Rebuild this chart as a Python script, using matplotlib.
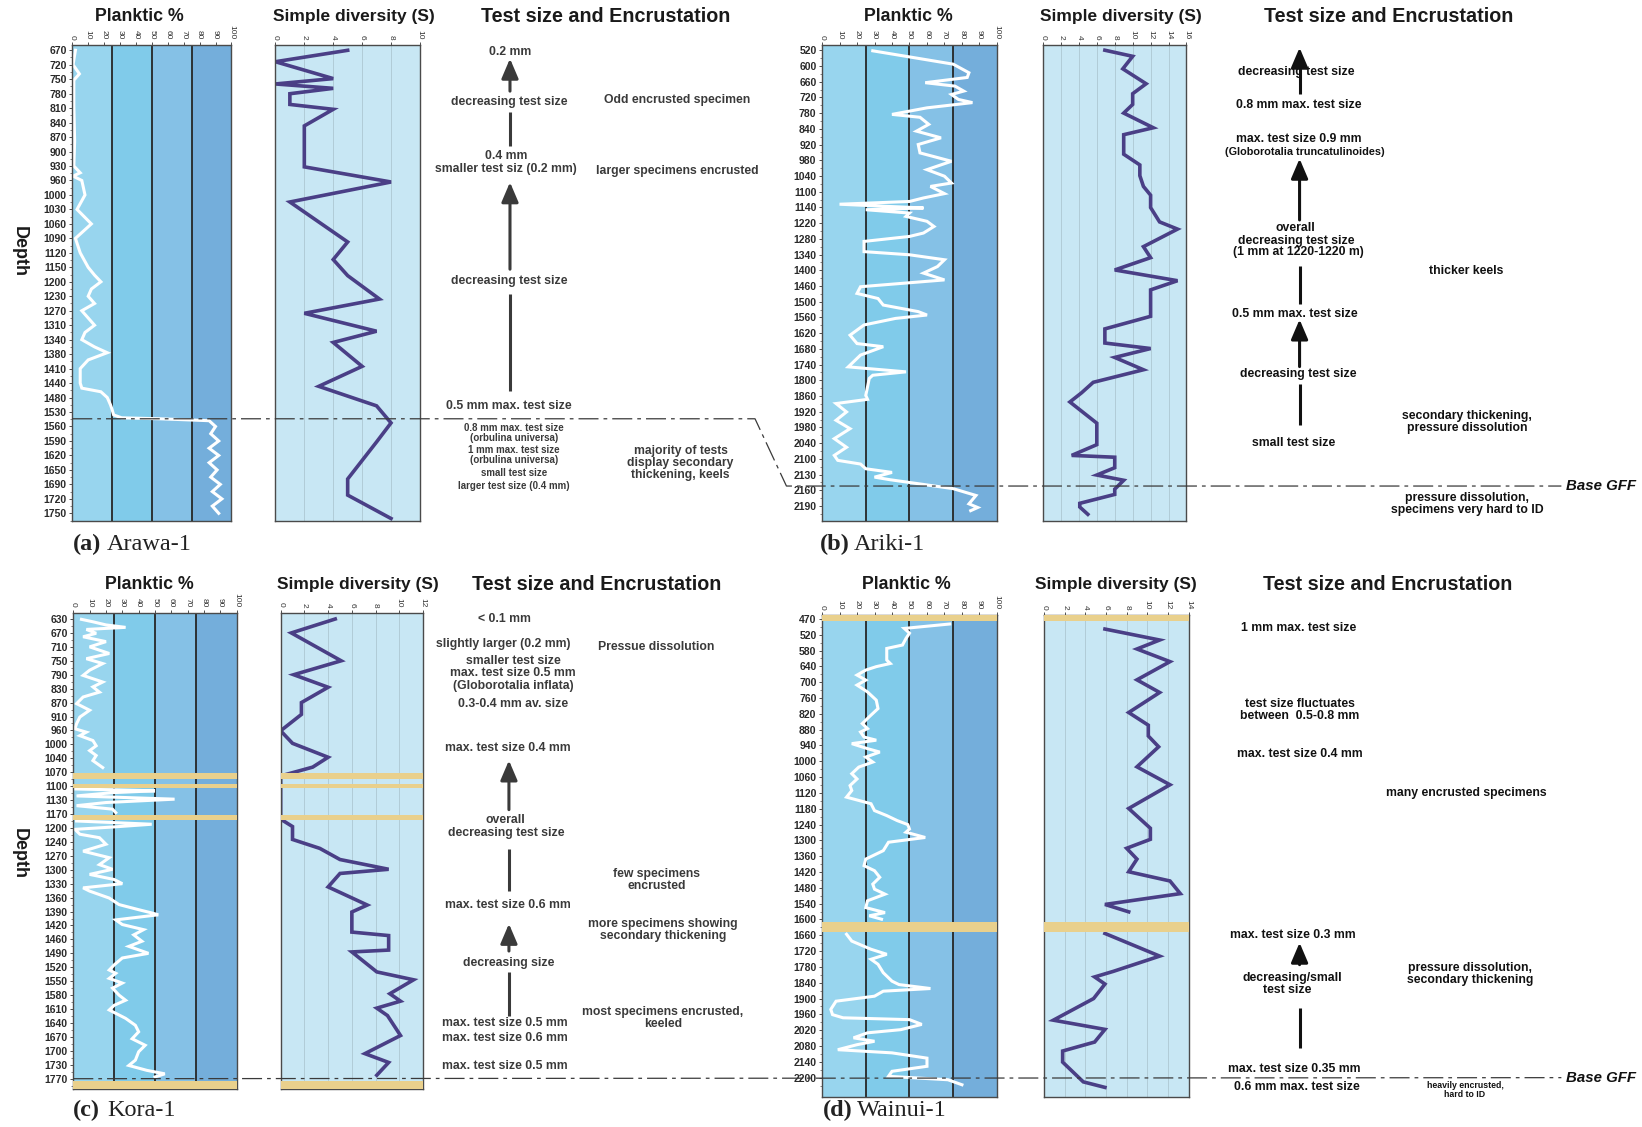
import numpy as np
import matplotlib
matplotlib.use("Agg")
import matplotlib.pyplot as plt
from matplotlib.lines import Line2D
from matplotlib.patches import FancyArrowPatch

# ---------------------------------------------------------------- data ----
# Arawa-1
arawa_depth_labels = [670, 720, 750, 780, 810, 840, 870, 900, 930, 960, 1000, 1030,
                      1060, 1090, 1120, 1150, 1200, 1230, 1270, 1310, 1340, 1380,
                      1410, 1440, 1480, 1530, 1560, 1590, 1620, 1650, 1690, 1720, 1750]
arawa_plank_depth = [670, 720, 739, 752, 805, 878, 930, 944, 951, 960, 1000, 1030, 1060,
                     1090, 1120, 1150, 1177, 1200, 1215, 1230, 1250, 1270, 1290, 1310,
                     1325, 1340, 1360, 1376, 1392, 1410, 1440, 1454, 1464, 1480, 1505,
                     1521, 1536, 1542, 1544, 1548, 1560, 1575, 1590, 1605, 1620, 1635,
                     1650, 1670, 1690, 1705, 1720, 1735, 1750]
arawa_plank_pct = [2, 0.5, 4.5, 1, 1, 1.5, 1, 5, 0.5, 6, 8, 3, 12, 2, 5, 10, 14, 18, 12,
                   10, 14, 6, 10, 14, 8, 6, 14, 22, 10, 5, 5, 6, 18, 22, 24, 25, 26, 31,
                   55, 86, 90, 87, 92, 86, 92, 86, 91, 87, 93, 88, 94, 88, 92]
arawa_div_depth = [670, 709, 748, 759, 768, 779, 801, 811, 845, 929, 960, 1011, 1093,
                   1129, 1170, 1230, 1269, 1316, 1339, 1398, 1439, 1495, 1544, 1583,
                   1662, 1702, 1750]
arawa_div_s = [5, 0, 4, 0, 4, 1, 1, 4, 2, 2, 8, 1, 5, 4, 5, 7.2, 2, 7, 4, 6, 3, 7, 8, 7,
               5, 5, 8]
arawa_base_gff = 1544

# Ariki-1
ariki_depth_labels = [520, 600, 660, 720, 780, 840, 920, 980, 1040, 1100, 1140, 1220,
                      1280, 1340, 1400, 1460, 1500, 1560, 1620, 1680, 1740, 1800, 1860,
                      1920, 1980, 2040, 2100, 2130, 2160, 2190]
ariki_plank_depth = [523, 591, 626, 644, 664, 677, 696, 709, 728, 740, 760, 785, 796, 823,
                     852, 886, 920, 952, 984, 1016, 1041, 1067, 1080, 1105, 1116, 1125,
                     1132, 1138, 1143, 1152, 1169, 1186, 1211, 1233, 1258, 1271, 1290,
                     1329, 1341, 1360, 1386, 1411, 1437, 1462, 1479, 1492, 1513, 1538,
                     1551, 1564, 1589, 1628, 1660, 1672, 1704, 1749, 1768, 1781, 1793,
                     1858, 1873, 1889, 1921, 1953, 1985, 2023, 2056, 2087, 2103, 2110,
                     2119, 2126, 2135, 2140, 2157, 2170, 2186, 2193, 2199]
ariki_plank_pct = [29, 75, 84, 83, 59, 76, 81, 74, 78, 86, 60, 40, 56, 61, 54, 68, 55, 56,
                   74, 60, 70, 74, 62, 70, 58, 50, 10, 40, 58, 25, 50, 48, 60, 64, 58, 50,
                   24, 24, 50, 70, 66, 58, 70, 22, 20, 32, 35, 55, 60, 42, 24, 16, 20, 35,
                   22, 15, 48, 29, 27, 25, 26, 8, 14, 8, 16, 7, 14, 7, 9, 22, 25, 40, 30,
                   39, 75, 88, 84, 89, 85]
ariki_div_depth = [520, 551, 611, 668, 706, 747, 780, 836, 870, 957, 998, 1039, 1080,
                   1109, 1141, 1214, 1243, 1310, 1352, 1399, 1440, 1470, 1556, 1604,
                   1658, 1679, 1713, 1760, 1808, 1848, 1883, 1964, 2046, 2087, 2094,
                   2117, 2131, 2141, 2158, 2168, 2185, 2192, 2206]
ariki_div_s = [6.9, 10, 8.9, 11.5, 10, 10, 9, 12.3, 9, 9, 10.8, 10.8, 11.2, 12, 12, 13,
               15, 11.2, 12, 8, 15, 12, 12, 6.9, 6.9, 12, 8, 11.2, 5.6, 4.3, 3, 6, 6,
               3.2, 8, 8, 6, 9, 8, 8, 4.1, 4.1, 5]
ariki_base_gff = 2152

# Kora-1 (NaN marks a break in the record)
kora_depth_labels = [630, 670, 710, 750, 790, 830, 870, 910, 960, 1000, 1040, 1070, 1100,
                     1130, 1170, 1200, 1240, 1270, 1300, 1330, 1360, 1390, 1420, 1460,
                     1490, 1520, 1550, 1580, 1610, 1640, 1670, 1700, 1730, 1770]
kora_plank_depth = [631, 638, 647, 654, 660, 671, 681, 695, 710, 729, 744, 758, 777, 792,
                    811, 825, 840, 854, 873, 892, 912, 936, 954, 965, 975, 989, 1004,
                    1018, 1032, 1045, 1060, np.nan,
                    1106, 1110, 1114, 1121, 1128, 1137, 1146, 1156, 1166, np.nan,
                    1185, 1192, 1198, 1204, 1218, 1228, 1245, 1260, 1274, 1289, 1299,
                    1310, 1321, 1330, 1339, 1346, 1361, 1375, 1386, 1393, 1397, 1408,
                    1418, 1432, 1447, 1464, 1475, 1490, 1500, 1515, 1526, 1533, 1544,
                    1554, 1565, 1580, 1591, 1602, 1612, 1630, 1645, 1659, 1674, 1688,
                    1702, 1720, 1732, 1746, 1756, 1765]
kora_plank_pct = [5, 12, 20, 32, 8, 14, 6, 20, 10, 22, 8, 18, 10, 6, 18, 12, 16, 6, 2, 10,
                  4, 2, 1, 8, 4, 12, 14, 10, 14, 12, 18, np.nan,
                  1, 50, 24, 2, 62, 20, 2, 24, 26, np.nan,
                  2, 48, 24, 1, 4, 16, 20, 6, 22, 16, 24, 10, 25, 30, 6, 10, 22, 28, 40,
                  48, 52, 26, 30, 43, 37, 42, 34, 46, 30, 25, 22, 26, 22, 30, 24, 28, 32,
                  25, 22, 32, 38, 40, 36, 44, 40, 38, 34, 45, 56, 50]
kora_div_depth = [630, 670, 750, 790, 826, 870, 904, 961, 997, 1037, 1059, 1078, 1181,
                  1197, 1233, 1254, 1278, 1299, 1308, 1337, 1376, 1391, 1439, 1449, 1483,
                  1487, 1530, 1547, 1577, 1593, 1608, 1624, 1667, 1706, 1725, 1760]
kora_div_s = [4.6, 0.9, 5.1, 1.1, 4, 1.75, 1.75, 0, 1, 4, 2.7, 0, 0, 1, 1, 3.3, 5, 9.1, 5,
              4, 7.3, 6, 6, 9.1, 9.1, 6, 8.1, 11.2, 9.2, 10.1, 8.1, 9, 10.1, 7.1, 9.1, 8.1]
kora_barren = [(1072, 1085), (1095, 1105), (1173, 1183), (1778, 1800)]
kora_base_gff = 1770

# Wainui-1
wainui_depth_labels = [470, 520, 580, 640, 700, 760, 820, 880, 940, 1000, 1060, 1120,
                       1180, 1240, 1300, 1360, 1420, 1480, 1540, 1600, 1660, 1720, 1780,
                       1840, 1900, 1960, 2020, 2080, 2140, 2200]
wainui_plank_depth = [486, 500, 515, 534, 559, 572, 616, 629, 641, 654, 673, 692, 711, 737,
                      768, 800, 831, 857, 876, 889, 908, 920, 933, 952, 965, 984, 1003,
                      1022, 1047, 1067, 1092, 1111, 1136, 1161, 1187, 1206, 1225, 1240,
                      1257, 1269, 1289, 1307, 1339, 1371, 1396, 1415, 1440, 1466, 1485,
                      1504, 1529, 1555, 1574, 1586, 1599, np.nan,
                      1656, 1682, 1713, 1732, 1751, 1770, 1802, 1834, 1847, 1862, 1872,
                      1891, 1910, 1941, 1961, 1973, 1980, 1998, 2018, 2030, 2049, 2062,
                      2075, 2094, 2106, 2126, 2157, 2176, 2195, 2208, 2227]
wainui_plank_pct = [73, 47, 50, 48, 46, 37, 37, 39, 31, 25, 20, 25, 20, 26, 31, 32, 27, 23,
                    26, 22, 24, 31, 17, 26, 33, 25, 29, 21, 17, 20, 16, 17, 14, 28, 30,
                    37, 43, 49, 50, 48, 59, 38, 35, 25, 24, 30, 33, 29, 30, 36, 26, 25,
                    36, 27, 34, np.nan,
                    14, 17, 28, 37, 28, 32, 35, 40, 44, 62, 35, 30, 8, 5, 6, 12, 50, 57,
                    45, 26, 18, 30, 20, 9, 40, 60, 60, 40, 38, 72, 80]
wainui_div_depth = [502, 540, 574, 622, 691, 739, 815, 863, 904, 945, 1021, 1089, 1179,
                    1254, 1296, 1330, 1371, 1419, 1454, 1502, 1543, 1571, np.nan,
                    1653, 1739, 1797, 1818, 1845, 1900, 1982, 2017, 2065, 2099, 2141,
                    2216, 2237]
wainui_div_s = [5.9, 11.2, 9, 12.2, 9, 11.2, 8.2, 10.1, 10.1, 11.1, 9, 12.2, 8.2, 10.3,
                10.3, 8, 9, 8.2, 12.2, 13.2, 5.9, 8.2, np.nan,
                5.9, 11.2, 6.7, 4.9, 5.9, 4.8, 0.9, 5.9, 4.9, 1.8, 1.8, 3.8, 5.9]
wainui_barren = [(455, 478), (1610, 1647)]
wainui_base_gff = 2200

planktic_ticks = list(range(0, 101, 10))

# ---------------------------------------------------------------- style ---
SANS = ["Liberation Sans", "DejaVu Sans"]
SERIF = ["Liberation Serif", "DejaVu Serif"]
plt.rcParams["font.family"] = SANS

BAND_COLORS = ["#98d5ee", "#80cbea", "#85c1e6", "#74aedb"]
DIV_BG = "#c8e7f4"
DIV_LINE = "#4a3f86"
BARREN = "#e9d08c"
DASHDOT = (0, (16, 4, 3, 4))

W, H = 1568.0, 1076.0  # layout grid
fig = plt.figure(figsize=(16.42, 11.27), dpi=100)
fig.patch.set_facecolor("white")


def rect(x0, y0, x1, y1):
    return [x0 / W, 1 - y1 / H, (x1 - x0) / W, (y1 - y0) / H]


def fx(x):
    return x / W


def fy(y):
    return 1 - y / H


def depth_pos(depths, labels):
    """Place depths on the evenly spaced label ladder of a well log."""
    d = np.asarray(depths, dtype=float)
    lab = np.asarray(labels, dtype=float)
    idx = np.arange(len(lab), dtype=float)
    p = np.interp(d, lab, idx)
    p = np.where(d < lab[0], (d - lab[0]) / (lab[1] - lab[0]), p)
    p = np.where(d > lab[-1], idx[-1] + (d - lab[-1]) / (lab[-1] - lab[-2]), p)
    p = np.where(np.isnan(d), np.nan, p)
    return p


def style_top_axis(ax, ticks, size=6):
    ax.xaxis.set_ticks_position("top")
    ax.set_xticks(ticks)
    ax.set_xticklabels([str(t) for t in ticks], rotation=-90, fontsize=size,
                       color="#333333")
    ax.tick_params(axis="x", direction="out", length=2.5, width=0.6, pad=1.5,
                   colors="#333333")
    for sp in ax.spines.values():
        sp.set_color("#4a4a4a")
        sp.set_linewidth(1.0)


def draw_well(pl_box, dv_box, ylim, labels, pl_d, pl_v, dv_d, dv_v, dv_max,
              barren=()):
    # Planktic percentage column
    ax = fig.add_axes(rect(*pl_box))
    ax.set_xlim(0, 100)
    ax.set_ylim(ylim[1], ylim[0])
    for i, c in enumerate(BAND_COLORS):
        ax.axvspan(25 * i, 25 * (i + 1), color=c, lw=0, zorder=0)
    for xv in (25, 50, 75):
        ax.axvline(xv, color="#262626", lw=1.3, zorder=1)
    ax.plot(pl_v, depth_pos(pl_d, labels), color="white", lw=2.2, zorder=2,
            solid_joinstyle="miter")
    for a, b in barren:
        pa, pb = depth_pos([a, b], labels)
        ax.axhspan(pa, pb, color=BARREN, lw=0, zorder=3)
    style_top_axis(ax, planktic_ticks)
    ax.set_yticks(np.arange(len(labels)))
    ax.set_yticklabels([str(v) for v in labels], fontsize=7.5, fontweight="bold",
                       color="#2a2a2a")
    ax.set_yticks(np.arange(len(labels)) + 0.5, minor=True)
    ax.tick_params(axis="y", which="major", direction="out", length=2.5, width=0.6,
                   pad=1.5, colors="#333333")
    ax.tick_params(axis="y", which="minor", direction="out", length=1.5, width=0.5,
                   colors="#555555")
    ax.tick_params(axis="y", labelcolor="#2a2a2a")

    # Simple diversity column
    ax2 = fig.add_axes(rect(*dv_box))
    ax2.set_facecolor(DIV_BG)
    ax2.set_xlim(0, dv_max)
    ax2.set_ylim(ylim[1], ylim[0])
    div_ticks = list(range(0, dv_max + 1, 2))
    for xv in div_ticks[1:-1]:
        ax2.axvline(xv, color="#adc7d2", lw=0.6, zorder=1)
    ax2.plot(dv_v, depth_pos(dv_d, labels), color=DIV_LINE, lw=2.6, zorder=2,
             solid_joinstyle="miter")
    for a, b in barren:
        pa, pb = depth_pos([a, b], labels)
        ax2.axhspan(pa, pb, color=BARREN, lw=0, zorder=3)
    style_top_axis(ax2, div_ticks)
    ax2.set_yticks([])
    return ax, ax2


def titles(y, xp, xd, xt):
    fig.text(fx(xp), fy(y), "Planktic %", ha="center", va="center", fontsize=12.8,
             fontweight="bold", color="#1a1a1a")
    fig.text(fx(xd), fy(y), "Simple diversity (S)", ha="center", va="center",
             fontsize=12.5, fontweight="bold", color="#1a1a1a")
    fig.text(fx(xt), fy(y), "Test size and Encrustation", ha="center", va="center",
             fontsize=14.2, fontweight="bold", color="#1a1a1a")


def note(x, y, s, size=8.8, color="#333333", **kw):
    fig.text(fx(x), fy(y), s, ha="center", va="center", fontsize=size,
             fontweight="bold", color=color, linespacing=1.0, **kw)


def arrow(x, y_tail, y_tip, color="#333333"):
    fig.add_artist(FancyArrowPatch((fx(x), fy(y_tail)), (fx(x), fy(y_tip)),
                                   transform=fig.transFigure,
                                   arrowstyle="-|>,head_length=0.75,head_width=0.32",
                                   mutation_scale=16, lw=2.2, color=color,
                                   shrinkA=0, shrinkB=0))


def bar(x, y0, y1, color="#333333"):
    fig.add_artist(Line2D([fx(x), fx(x)], [fy(y0), fy(y1)], transform=fig.transFigure,
                          color=color, lw=2.2, solid_capstyle="butt"))


def panel_label(x, letter, name, y):
    fig.text(fx(x), fy(y), letter, ha="left", va="center", fontsize=17.5,
             fontweight="bold", family=SERIF, color="#222222")
    fig.text(fx(x + 32), fy(y), name, ha="left", va="center", fontsize=17.5,
             family=SERIF, color="#222222")


def depth_label(y):
    fig.text(fx(18), fy(y), "Depth", ha="center", va="center", fontsize=13,
             fontweight="bold", rotation=270, color="#1a1a1a")


# ---------------------------------------------------------------- wells ---
a_pl, a_dv = draw_well((69, 43, 221, 497), (263, 43, 401, 497), (-0.36, 32.14),
                       arawa_depth_labels, arawa_plank_depth, arawa_plank_pct,
                       arawa_div_depth, arawa_div_s, 10)
b_pl, b_dv = draw_well((785, 43, 952, 497), (996, 43, 1133, 497), (-0.33, 29.93),
                       ariki_depth_labels, ariki_plank_depth, ariki_plank_pct,
                       ariki_div_depth, ariki_div_s, 16)
c_pl, c_dv = draw_well((70, 585, 226, 1040), (268, 585, 404, 1040), (-0.45, 33.76),
                       kora_depth_labels, kora_plank_depth, kora_plank_pct,
                       kora_div_depth, kora_div_s, 12, kora_barren)
d_pl, d_dv = draw_well((785, 587, 952, 1047), (997, 587, 1135, 1047), (-0.26, 30.2),
                       wainui_depth_labels, wainui_plank_depth, wainui_plank_pct,
                       wainui_div_depth, wainui_div_s, 14, wainui_barren)

titles(16, 133, 338, 578)
titles(16, 867, 1070, 1326)
titles(558, 143, 342, 570)
titles(558, 866, 1066, 1325)
depth_label(240)
depth_label(815)
panel_label(70, "(a)", "Arawa-1", 520)
panel_label(783, "(b)", "Ariki-1", 520)
panel_label(70, "(c)", "Kora-1", 1060)
panel_label(786, "(d)", "Wainui-1", 1060)


# ----------------------------------------------------------- Base GFF -----
def base_y(ax, depth, labels):
    p = depth_pos([depth], labels)[0]
    disp = ax.transData.transform((0, p))
    return 1 - fig.transFigure.inverted().transform(disp)[1]


ya = base_y(a_pl, arawa_base_gff, arawa_depth_labels) * H
yb = base_y(b_pl, ariki_base_gff, ariki_depth_labels) * H
yc = base_y(c_pl, kora_base_gff, kora_depth_labels) * H
yd = base_y(d_pl, wainui_base_gff, wainui_depth_labels) * H

fig.add_artist(Line2D([fx(69), fx(721), fx(751), fx(1491)],
                      [fy(ya), fy(ya), fy(yb), fy(yb)], transform=fig.transFigure,
                      color="#3a3a3a", lw=0.9, linestyle=DASHDOT, zorder=10))
fig.add_artist(Line2D([fx(70), fx(1491)], [fy(yc), fy(yd)], transform=fig.transFigure,
                      color="#3a3a3a", lw=0.9, linestyle=DASHDOT, zorder=10))
for yy in (yb, yd):
    fig.text(fx(1529), fy(yy), "Base GFF", ha="center", va="center", fontsize=10.8,
             fontweight="bold", style="italic", color="#111111")

# ------------------------------------------------------ annotations (a) ---
g = "#3a3a3a"
note(487, 50, "0.2 mm", color=g)
arrow(487, 87, 56, g)
note(486, 97, "decreasing test size", color=g)
bar(487, 107, 139, g)
note(483, 149, "0.4 mm", color=g)
note(483, 161, "smaller test siz (0.2 mm)", color=g)
arrow(487, 257, 174, g)
note(486, 268, "decreasing test size", color=g)
bar(487, 281, 373, g)
note(486, 388, "0.5 mm max. test size", color=g)
note(491, 409, "0.8 mm max. test size", size=7, color=g)
note(491, 418.5, "(orbulina universa)", size=7, color=g)
note(491, 429.5, "1 mm max. test size", size=7, color=g)
note(491, 439, "(orbulina universa)", size=7, color=g)
note(491, 452, "small test size", size=7, color=g)
note(491, 464, "larger test size (0.4 mm)", size=7, color=g)
note(647, 95, "Odd encrusted specimen", color=g)
note(647, 163, "larger specimens encrusted", color=g)
note(650, 442, "majority of tests\ndisplay secondary\nthickening, keels", size=8.7,
     color=g)

# ------------------------------------------------------ annotations (b) ---
k = "#111111"
bar(1241, 61, 90, k)
arrow(1241, 62, 45.5, k)
note(1238, 69, "decreasing test size", color=k)
note(1240, 100, "0.8 mm max. test size", color=k)
note(1240, 133, "max. test size 0.9 mm", color=k)
note(1246, 145, "(Globorotalia truncatulinoides)", size=7.8, color=k)
arrow(1241, 210, 151.5, k)
note(1237, 218, "overall", color=k)
note(1238, 230, "decreasing test size", color=k)
note(1240, 241, "(1 mm at 1220-1220 m)", color=k)
bar(1241, 254, 290, k)
note(1236, 299.5, "0.5 mm max. test size", color=k)
arrow(1241, 350, 305, k)
note(1240, 357, "decreasing test size", color=k)
bar(1241, 367, 406, k)
note(1235, 423, "small test size", color=k)
note(1400, 259, "thicker keels", color=k)
note(1401, 403, "secondary thickening,\npressure dissolution", color=k)
note(1401, 481, "pressure dissolution,\nspecimens very hard to ID", color=k)

# ------------------------------------------------------ annotations (c) ---
note(482, 591, "< 0.1 mm", color=g)
note(481, 615, "slightly larger (0.2 mm)", color=g)
note(490, 631, "smaller test size", color=g)
note(490, 643, "max. test size 0.5 mm", color=g)
note(490, 655, "(Globorotalia inflata)", color=g)
note(490, 672, "0.3-0.4 mm av. size", color=g)
note(485, 714, "max. test size 0.4 mm", color=g)
arrow(486, 773, 726, g)
note(483, 783, "overall", color=g)
note(483, 795, "decreasing test size", color=g)
bar(486, 811, 851, g)
note(485, 864, "max. test size 0.6 mm", color=g)
arrow(486, 908, 882, g)
note(486, 919, "decreasing size", color=g)
bar(486, 928, 970, g)
note(482, 977, "max. test size 0.5 mm", color=g)
note(482, 991, "max. test size 0.6 mm", color=g)
note(482, 1018, "max. test size 0.5 mm", color=g)
note(627, 618, "Pressue dissolution", color=g)
note(627, 840, "few specimens\nencrusted", color=g)
note(633, 888, "more specimens showing\nsecondary thickening", color=g)
note(633, 972, "most specimens encrusted,\nkeeled", color=g)

# ------------------------------------------------------ annotations (d) ---
note(1240, 600, "1 mm max. test size", color=k)
note(1241, 678, "test size fluctuates\nbetween  0.5-0.8 mm", color=k)
note(1241, 720, "max. test size 0.4 mm", color=k)
note(1400, 757, "many encrusted specimens", color=k)
note(1235, 893, "max. test size 0.3 mm", color=k)
arrow(1241, 921, 900, k)
note(1234, 934, "decreasing/small", color=k)
note(1229, 945.5, "test size", color=k)
bar(1241, 962, 1001, k)
note(1236, 1021, "max. test size 0.35 mm", color=k)
note(1238, 1038, "0.6 mm max. test size", color=k)
note(1404, 929.5, "pressure dissolution,\nsecondary thickening", color=k)
note(1399, 1041, "heavily encrusted,\nhard to ID", size=6.3, color=k)

fig.savefig("out.png", dpi=100, facecolor="white")
